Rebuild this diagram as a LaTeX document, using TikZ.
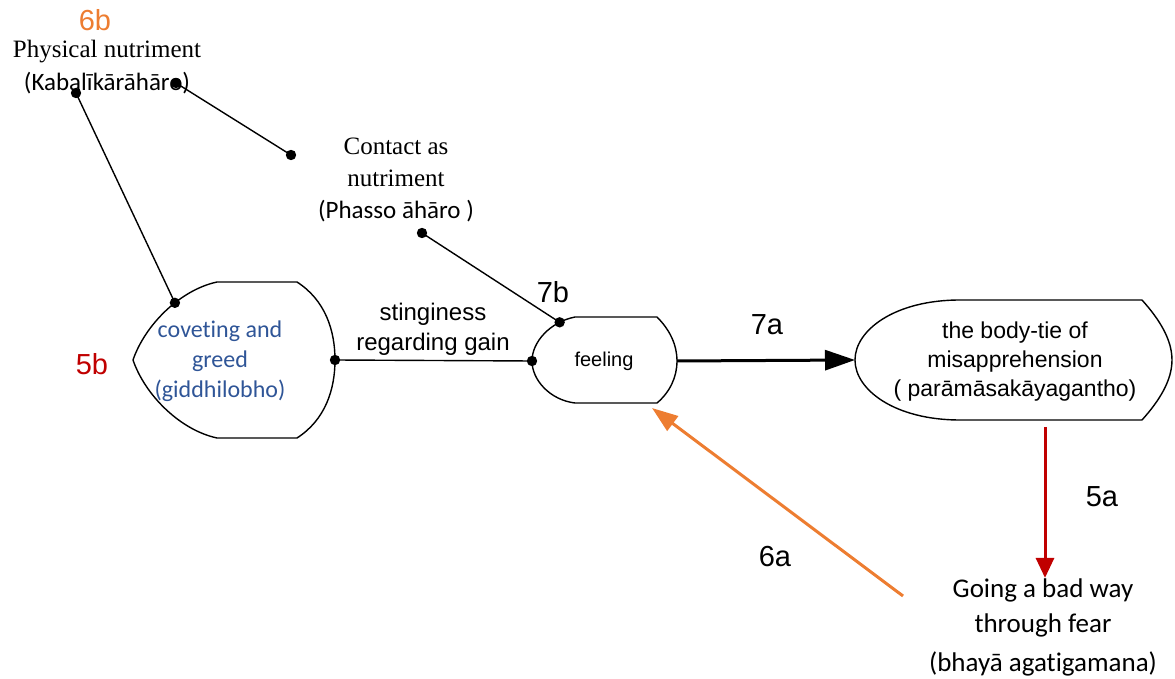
\documentclass[tikz,border=0pt]{standalone}
\usepackage{fontspec}
\usepackage{tikz}
\usetikzlibrary{arrows.meta}
\setmainfont{Liberation Sans}
\newfontfamily\timesfont{Liberation Serif}
\newfontfamily\calibrifont[RawFeature={-liga;-clig;-calt;-dlig}]{Carlito}
\definecolor{paliblue}{HTML}{2F5597}
\definecolor{fearorange}{HTML}{ED7D31}
\definecolor{darkred}{HTML}{C00000}

\begin{document}
\begin{tikzpicture}[x=0.5pt,y=-0.5pt,
    outline/.style={line width=0.7pt},
    link/.style={line width=0.7pt},
    txt/.style={align=center,inner sep=0pt},
    numlabel/.style={inner sep=0pt,font=\fontsize{14.5}{17}\selectfont}]
  \useasboundingbox (0,0) rectangle (1175,679);
  \draw[outline] (217,282) -- (297,282) .. controls (325,300) and (335,330) .. (335,360) coordinate (covR)
    .. controls (335,390) and (325,420) .. (297,438) -- (217,438)
    .. controls (180,430) and (145,395) .. (133,360)
    .. controls (145,325) and (180,290) .. (217,282) coordinate[pos=0.6] (covTop) -- cycle;
  \draw[outline] (575,317) -- (657,317) .. controls (670,330) and (677,345) .. (677,361) coordinate (feelR)
    .. controls (677,377) and (670,392) .. (657,403) -- (575,403)
    .. controls (550,400) and (532,380) .. (532,361) coordinate (feelL)
    .. controls (532,342) and (550,322) .. (575,317) coordinate[pos=0.78] (feelTop) -- cycle;
  \draw[outline] (960,300) -- (1142,300) .. controls (1160,320) and (1172,340) .. (1172,360)
    .. controls (1172,380) and (1160,400) .. (1142,420) -- (960,420)
    .. controls (895,420) and (855,390) .. (855,360) coordinate (bodyL)
    .. controls (855,330) and (895,300) .. (960,300) -- cycle;

  \node[txt,text=paliblue,font=\calibrifont\fontsize{12}{15}\selectfont] (cov) at (220,361)
    {coveting and\\greed\\(giddhilobho)};
  \node[inner sep=0pt,font=\fontsize{10}{12}\selectfont] (feel) at (604,361) {feeling};
  \node[txt,font=\fontsize{11.5}{14.5}\selectfont] (body) at (1015,362)
    {the body-tie of\\misapprehension\\( parāmāsakāyagantho)};
  \node[txt,font=\timesfont\fontsize{12.5}{16.5}\selectfont] (phys) at (107,67)
    {Physical nutriment\\{\calibrifont (Kabalīkārāhāro)}};
  \node[txt,font=\timesfont\fontsize{12.5}{15.8}\selectfont] (contact) at (396,180)
    {Contact as\\nutriment\\{\calibrifont (Phasso āhāro )}};
  \node[txt,font=\fontsize{12}{15}\selectfont] (sting) at (433,329) {stinginess\\regarding gain};
  \node[txt,font=\calibrifont\fontsize{13.5}{17.5}\selectfont] (going) at (1043,627)
    {Going a bad way\\through fear\\[2pt](bhayā agatigamana)};

  \node[numlabel] (l7b) at (553,292) {7b};
  \node[numlabel] (l7a) at (767,325) {7a};
  \node[numlabel] (l5a) at (1102,497) {5a};
  \node[numlabel] (l6a) at (775,557) {6a};
  \node[numlabel,text=darkred] (l5b) at (92,364) {5b};
  \node[numlabel,text=fearorange] (l6b) at (95,20) {6b};

  \coordinate (physA) at (76,93);
  \coordinate (physB) at (176,83);
  \coordinate (contactA) at (291,155);
  \coordinate (contactB) at (422,233);
  \coordinate (bodyB) at (1045,427);
  \coordinate (fearTail) at (903,596);
  \coordinate (feelTip) at (652,408);

  \draw[link] (physA) -- (covTop);
  \draw[link] (physB) -- (contactA);
  \draw[link] (contactB) -- (feelTop);
  \draw[link] (covR) -- (feelL);
  \draw[line width=1.5pt,-{Triangle[length=15pt,width=10pt]}] (feelR) -- (bodyL);
  \draw[darkred,line width=1.5pt,-{Triangle[length=10pt,width=9pt]}] (bodyB) -- (bodyB |- going.north);
  \draw[fearorange,line width=1.5pt,-{Triangle[length=13pt,width=9pt]}] (fearTail) -- (feelTip);
  \foreach \p in {physA,physB,contactA,contactB,covTop,covR,feelL,feelTop}
    \fill (\p) circle (2.6pt);
\end{tikzpicture}
\end{document}
